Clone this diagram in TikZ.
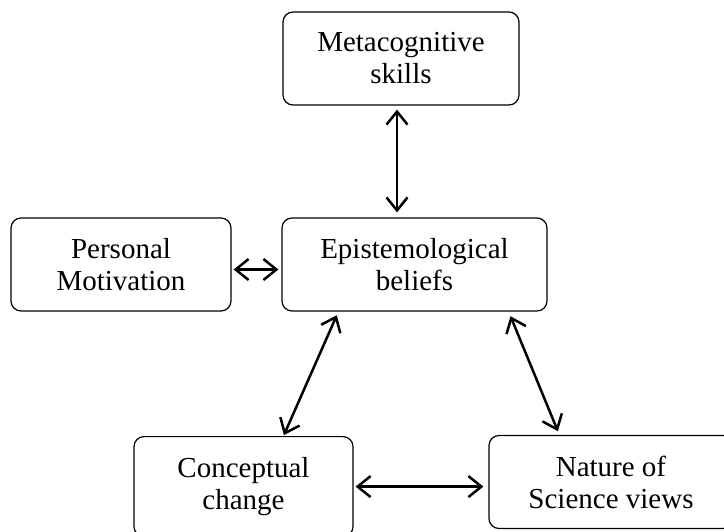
\documentclass[tikz,border=0pt]{standalone}
\usepackage{fontspec}
\setmainfont{Liberation Serif}
\usepackage{tikz}
\usetikzlibrary{arrows.meta,positioning}

\begin{document}
\begin{tikzpicture}[x=0.5pt, y=-0.5pt,
  every node/.style={font=\fontsize{14.5}{16}\selectfont, align=center},
  box/.style={draw, line width=0.6pt, rounded corners=5pt, minimum height=46.5pt},
  link/.style={{Straight Barb[length=6.5pt,width=10.5pt]}-{Straight Barb[length=6.5pt,width=10.5pt]},
               line width=1.25pt}]

\path[use as bounding box] (0,0) rectangle (724,531);

% Boxes
\node[box, minimum width=118pt] (meta) at (401,58.5) {Metacognitive\\skills};
\node[box, minimum width=132.5pt] (epis) at (414.5,264.5) {Epistemological\\beliefs};
\node[box, minimum width=110pt] (pers) at (121,264.5) {Personal\\Motivation};
\node[box, minimum width=109.5pt, minimum height=50pt, anchor=north]
  (conc) at (243.5,436) {Conceptual\\change};
\node[box, minimum width=122pt] (natr) at (611,482) {Nature of\\Science views};

% Links (all two-way)
\draw[link, shorten <=2pt, shorten >=2.5pt]
  ([xshift=-2pt]meta.south) -- ([xshift=-2pt]meta.south |- epis.north);
\draw[link, shorten <=1pt, shorten >=1.5pt]
  ([yshift=-2.5pt]pers.east) -- ([yshift=-2.5pt]epis.west);
\draw[link, shorten <=2pt, shorten >=0.5pt]
  ([xshift=28.5pt]epis.south west) -- ([xshift=20pt]conc.north);
\draw[link, shorten <=2.5pt, shorten >=2pt]
  ([xshift=-19.5pt]epis.south east) -- ([xshift=35.5pt]natr.north west);
\draw[link, shorten <=1pt, shorten >=2.5pt]
  (conc.east) -- (conc.east -| natr.west);
\end{tikzpicture}
\end{document}
